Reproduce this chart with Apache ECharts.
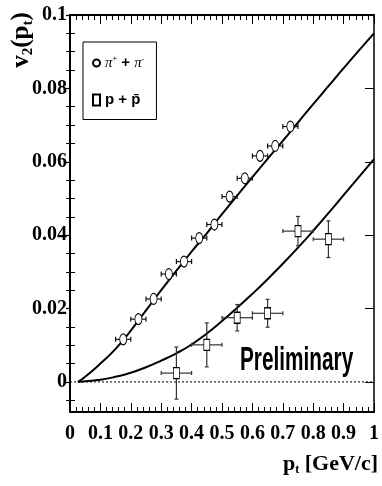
<!DOCTYPE html>
<html><head><meta charset="utf-8">
<script src="https://cdn.jsdelivr.net/npm/echarts@6/dist/echarts.min.js"></script>
<style>html,body{margin:0;padding:0;background:#fff}#c{width:382px;height:486px}</style>
</head><body><div id="c"></div>
<script>
// ---- data ----
const pionName = 'π⁺ + π⁻';
const protonName = 'p + p̄';
const pionX    = [0.175, 0.225, 0.275, 0.325, 0.375, 0.425, 0.475, 0.525, 0.575, 0.625, 0.675, 0.725];
const pionY    = [0.0116, 0.0171, 0.0226, 0.0294, 0.0328, 0.0392, 0.0429, 0.0505, 0.0555, 0.0616, 0.0643, 0.0696];
const pionXErr = [0.025, 0.025, 0.025, 0.025, 0.025, 0.025, 0.025, 0.025, 0.025, 0.025, 0.025, 0.025];
const pionYErr = [0.001, 0.001, 0.001, 0.001, 0.001, 0.001, 0.001, 0.001, 0.001, 0.001, 0.001, 0.001];
const protonX    = [0.35, 0.45, 0.55, 0.65, 0.75, 0.85];
const protonY    = [0.0024, 0.0101, 0.0175, 0.0187, 0.0411, 0.0389];
const protonXErr = [0.05, 0.05, 0.05, 0.05, 0.05, 0.05];
const protonYErr = [0.0071, 0.0060, 0.0036, 0.0038, 0.0040, 0.0050];
const pionFitX = [0.026, 0.05, 0.1, 0.15, 0.2, 0.25, 0.3, 0.35, 0.4, 0.45, 0.5, 0.55, 0.6, 0.65, 0.7, 0.75, 0.8, 0.85, 0.9, 0.95, 1.0];
const pionFitY = [0, 0.0014, 0.0050, 0.0090, 0.0140, 0.0195, 0.0250, 0.0303, 0.0355, 0.0405, 0.0457, 0.0508, 0.0558, 0.0608, 0.0657, 0.0707, 0.0757, 0.0806, 0.0855, 0.0903, 0.0950];
const protonFitX = [0.026, 0.05, 0.1, 0.15, 0.2, 0.25, 0.3, 0.35, 0.4, 0.45, 0.5, 0.55, 0.6, 0.65, 0.7, 0.75, 0.8, 0.85, 0.9, 0.95, 1.0];
const protonFitY = [0, 0.0002, 0.0006, 0.0014, 0.0025, 0.0040, 0.0058, 0.0078, 0.0102, 0.0132, 0.0166, 0.0202, 0.0240, 0.0280, 0.0322, 0.0366, 0.0412, 0.0460, 0.0509, 0.0558, 0.0607];
const zeroLineX = [0, 1];
const zeroLineY = [0, 0];
const xTicks = [0, 0.1, 0.2, 0.3, 0.4, 0.5, 0.6, 0.7, 0.8, 0.9, 1];
const yTicks = [0, 0.02, 0.04, 0.06, 0.08, 0.1];
const yMinorTicks = [-0.005, 0.005, 0.01, 0.015, 0.025, 0.03, 0.035, 0.045, 0.05, 0.055, 0.065, 0.07, 0.075, 0.085, 0.09, 0.095];
const xMin = 0, xMax = 1, yMin = -0.0082, yMax = 0.1;

// ---- build ----
const zip = (xs, ys) => xs.map((x, i) => [x, ys[i]]);
const errData = (xs, ys, exs, eys) => xs.map((x, i) => [x, ys[i], exs[i], eys[i]]);
function errRender(cap, color) {
  return function (params, api) {
    const x = api.value(0), y = api.value(1), ex = api.value(2), ey = api.value(3);
    const l = api.coord([x - ex, y]), r = api.coord([x + ex, y]);
    const t = api.coord([x, y + ey]), b = api.coord([x, y - ey]);
    const st = {stroke: color, lineWidth: 1.2};
    const ln = (x1, y1, x2, y2) => ({type: 'line', shape: {x1, y1, x2, y2}, style: st});
    return {type: 'group', children: [
      ln(l[0], l[1], r[0], r[1]),
      ln(t[0], t[1], b[0], b[1]),
      ln(l[0], l[1] - cap, l[0], l[1] + cap),
      ln(r[0], r[1] - cap, r[0], r[1] + cap),
      ln(t[0] - cap, t[1], t[0] + cap, t[1]),
      ln(b[0] - cap, b[1], b[0] + cap, b[1])
    ]};
  };
}
const serif = '"Liberation Serif", "Times New Roman", serif';
const lblFont = {fontFamily: serif, fontWeight: 'bold', fontSize: 20, color: '#000'};
const fmt = v => String(+(+v).toFixed(3));
const black = '#000';

const chart = echarts.init(document.getElementById('c'), null, {renderer: 'canvas'});
chart.setOption({
  backgroundColor: '#fff',
  animation: false,
  grid: {left: 70, right: 6, top: 15, bottom: 74, containLabel: false},
  xAxis: [
    {type: 'value', min: xMin, max: xMax, interval: 0.1, position: 'bottom',
     axisLine: {show: true, onZero: false, lineStyle: {color: black, width: 2}},
     axisTick: {show: true, inside: true, length: 9, lineStyle: {color: black, width: 1}},
     minorTick: {show: true, splitNumber: 5, length: 5, lineStyle: {color: black, width: 1}},
     splitLine: {show: false},
     axisLabel: Object.assign({margin: 12, formatter: fmt, showMinLabel: true, showMaxLabel: true}, lblFont),
     name: '{p|p}{s|t}{p| [GeV/c]}', nameLocation: 'end', nameGap: 4,
     nameTextStyle: {align: 'right', verticalAlign: 'top', padding: [40, 0, 0, 0],
       rich: {p: {fontFamily: serif, fontWeight: 'bold', fontSize: 22, color: black},
              s: {fontFamily: serif, fontWeight: 'bold', fontSize: 12, color: black, padding: [12, 0, 0, 0]}}}},
    {type: 'value', min: xMin, max: xMax, interval: 0.1, position: 'top',
     axisLine: {show: true, onZero: false, lineStyle: {color: black, width: 2}},
     axisTick: {show: true, inside: true, length: 9, lineStyle: {color: black, width: 1}},
     minorTick: {show: true, splitNumber: 5, length: 5, lineStyle: {color: black, width: 1}},
     splitLine: {show: false}, axisLabel: {show: false}}
  ],
  yAxis: [
    {type: 'value', min: yMin, max: yMax, position: 'left',
     axisLine: {show: true, onZero: false, lineStyle: {color: black, width: 2}},
     axisTick: {show: true, inside: false, length: 4, customValues: yTicks, lineStyle: {color: black, width: 1.2}},
     splitLine: {show: false},
     axisLabel: Object.assign({margin: 3, customValues: yTicks, formatter: fmt}, lblFont)},
    {type: 'value', min: yMin, max: yMax, position: 'left',
     axisLine: {show: false},
     axisTick: {show: true, inside: true, length: 5, customValues: yMinorTicks, lineStyle: {color: black, width: 1}},
     splitLine: {show: false}, axisLabel: {show: false}},
    {type: 'value', min: yMin, max: yMax, position: 'right',
     axisLine: {show: true, onZero: false, lineStyle: {color: black, width: 1.5}},
     axisTick: {show: true, inside: true, length: 9, customValues: yTicks, lineStyle: {color: black, width: 1}},
     splitLine: {show: false}, axisLabel: {show: false}},
    {type: 'value', min: yMin, max: yMax, position: 'right',
     axisLine: {show: false},
     axisTick: {show: true, inside: true, length: 4, customValues: yMinorTicks, lineStyle: {color: black, width: 1}},
     splitLine: {show: false}, axisLabel: {show: false}}
  ],
  legend: {
    orient: 'vertical', left: 83, top: 42, padding: [13, 12, 12, 9],
    itemWidth: 7, itemHeight: 11, itemGap: 22, borderColor: black, borderWidth: 1, itemTextGap: 8,
    selectedMode: false,
    data: [{name: pionName, icon: 'circle'}, {name: protonName, icon: 'rect'}],
    formatter: n => n === pionName ? '{g|π}{sup|+}{t| + }{g|π}{sup|-}' : '{t|p + p̄}',
    textStyle: {color: black, fontSize: 15,
      rich: {g: {fontFamily: serif, fontStyle: 'italic', fontSize: 15, color: black},
             sup: {fontFamily: '"Liberation Sans"', fontSize: 8, color: black, padding: [0, 0, 8, 0]},
             t: {fontFamily: '"Liberation Sans", sans-serif', fontWeight: 'bold', fontSize: 15, color: black}}}
  },
  graphic: [
    {type: 'text', x: 22, y: 40, rotation: Math.PI / 2,
     style: {text: '{v|v}{s|2}{v|(p}{s|t}{v|)}', align: 'center', verticalAlign: 'middle',
       rich: {v: {fontFamily: serif, fontWeight: 'bold', fontSize: 25, fill: black},
              s: {fontFamily: serif, fontWeight: 'bold', fontSize: 15, fill: black, padding: [12, 0, 0, 0]}}}},
    {type: 'text', x: 240, y: 361, scaleX: 0.63,
     style: {text: 'Preliminary', font: 'bold 33px "Liberation Sans", sans-serif', fill: black,
             align: 'left', verticalAlign: 'middle'}}
  ],
  series: [
    {type: 'line', name: 'zero', data: zip(zeroLineX, zeroLineY), showSymbol: false, silent: true,
     lineStyle: {color: black, width: 1, type: [2, 2]}, z: 1},
    {type: 'line', name: 'pionFit', data: zip(pionFitX, pionFitY), showSymbol: false, smooth: true, silent: true,
     lineStyle: {color: black, width: 2}, z: 2},
    {type: 'line', name: 'protonFit', data: zip(protonFitX, protonFitY), showSymbol: false, smooth: true, silent: true,
     lineStyle: {color: black, width: 2}, z: 2},
    {type: 'custom', name: 'pionErr', data: errData(pionX, pionY, pionXErr, pionYErr),
     renderItem: errRender(2.5, '#111'), silent: true, z: 3},
    {type: 'custom', name: 'protonErr', data: errData(protonX, protonY, protonXErr, protonYErr),
     renderItem: errRender(2, '#333'), silent: true, z: 3},
    {type: 'scatter', name: pionName, data: zip(pionX, pionY), symbol: 'circle', symbolSize: [7, 11],
     itemStyle: {color: '#fff', borderColor: black, borderWidth: 1, opacity: 1}, z: 4},
    {type: 'scatter', name: protonName, data: zip(protonX, protonY), symbol: 'rect', symbolSize: [6, 11],
     itemStyle: {color: '#fff', borderColor: black, borderWidth: 1, opacity: 1}, z: 4}
  ]
});
</script></body></html>
